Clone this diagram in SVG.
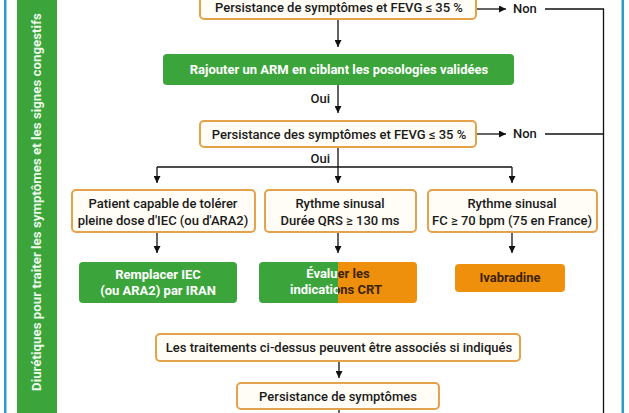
<svg xmlns="http://www.w3.org/2000/svg" width="629" height="413" viewBox="0 0 629 413">
<defs>
<marker id="arr" viewBox="0 0 10 10" refX="10" refY="5" markerWidth="7" markerHeight="7" markerUnits="userSpaceOnUse" orient="auto">
<path d="M0,0 L10,5 L0,10 z" fill="#111"/>
</marker>
<clipPath id="clipG"><rect x="259" y="262" width="79" height="41"/></clipPath>
<clipPath id="clipO"><rect x="338" y="262" width="79" height="41"/></clipPath>
<style>
.q{fill:#fffdf6;stroke:#e4a24c;stroke-width:2}
.t{font-family:Roboto,"Liberation Sans",sans-serif;font-size:13px;font-weight:500;fill:#1a1a1a;text-anchor:middle}
.w{font-family:Roboto,"Liberation Sans",sans-serif;font-size:13px;font-weight:700;fill:#ffffff;text-anchor:middle}
.d{font-family:Roboto,"Liberation Sans",sans-serif;font-size:13px;font-weight:700;fill:#3d2300;text-anchor:middle}
.l{font-family:Roboto,"Liberation Sans",sans-serif;font-size:13px;font-weight:500;fill:#1a1a1a}
.c{fill:none;stroke:#111;stroke-width:1.3}
.g{fill:#3ba53b}
.o{fill:#ef900c}
</style>
</defs>
<rect width="629" height="413" fill="#ffffff"/>
<g id="frame">
<rect x="4" y="0" width="2.5" height="413" fill="#2b9cc8"/>
<rect x="621.5" y="0" width="2.5" height="413" fill="#2b9cc8"/>
</g>
<g id="sidebar">
<rect x="17" y="0" width="40" height="413" class="g"/>
<text transform="translate(40.5,391) rotate(-90)" font-family="Roboto,'Liberation Sans',sans-serif" font-size="13.3" font-weight="700" fill="#eef8ea">Diurétiques pour traiter les symptômes et les signes congestifs</text>
</g>
<g id="connectors">
<path class="c" d="M338,19 V47" marker-end="url(#arr)"/>
<path class="c" d="M476,9 H506" marker-end="url(#arr)"/>
<path class="c" d="M545,9 H603.5 V413"/>
<path class="c" d="M338,85 V113" marker-end="url(#arr)"/>
<path class="c" d="M476,134 H506" marker-end="url(#arr)"/>
<path class="c" d="M545,134 H603.5"/>
<path class="c" d="M338,147 V167"/>
<path class="c" d="M157,167 H512"/>
<path class="c" d="M157,167 V183" marker-end="url(#arr)"/>
<path class="c" d="M338,167 V183" marker-end="url(#arr)"/>
<path class="c" d="M512,167 V183" marker-end="url(#arr)"/>
<path class="c" d="M157,232 V253" marker-end="url(#arr)"/>
<path class="c" d="M338,232 V253" marker-end="url(#arr)"/>
<path class="c" d="M512,232 V253" marker-end="url(#arr)"/>
<path class="c" d="M339,361 V378" marker-end="url(#arr)"/>
<path class="c" d="M339,409 V413"/>
<text class="l" x="513" y="13">Non</text>
<text class="l" x="513" y="138">Non</text>
<text class="l" x="330" y="103" text-anchor="end">Oui</text>
<text class="l" x="330" y="163" text-anchor="end">Oui</text>
</g>
<g id="n1">
<rect class="q" x="200" y="-8" width="276" height="27" rx="4"/>
<text class="t" x="339" y="12">Persistance de symptômes et FEVG ≤ 35 %</text>
</g>
<g id="n2">
<rect class="g" x="163" y="54" width="351" height="31" rx="4"/>
<text class="w" x="339" y="74">Rajouter un ARM en ciblant les posologies validées</text>
</g>
<g id="n3">
<rect class="q" x="200" y="121" width="276" height="26" rx="4"/>
<text class="t" x="339" y="139">Persistance des symptômes et FEVG ≤ 35 %</text>
</g>
<g id="n4">
<rect class="q" x="72" y="190" width="183" height="42" rx="4"/>
<text class="t" x="163" y="208">Patient capable de tolérer</text>
<text class="t" x="163" y="225">pleine dose d'IEC (ou d'ARA2)</text>
</g>
<g id="n5">
<rect class="q" x="265" y="190" width="151" height="42" rx="4"/>
<text class="t" x="340" y="208">Rythme sinusal</text>
<text class="t" x="340" y="225">Durée QRS ≥ 130 ms</text>
</g>
<g id="n6">
<rect class="q" x="428" y="190" width="169" height="42" rx="4"/>
<text class="t" x="512" y="208">Rythme sinusal</text>
<text class="t" x="512" y="225">FC ≥ 70 bpm (75 en France)</text>
</g>
<g id="n7">
<rect class="g" x="79" y="262" width="158" height="41" rx="4"/>
<text class="w" x="158" y="279">Remplacer IEC</text>
<text class="w" x="158" y="295">(ou ARA2) par IRAN</text>
</g>
<g id="n8">
<rect class="g" x="259" y="262" width="158" height="41" rx="4" clip-path="url(#clipG)"/>
<rect class="o" x="259" y="262" width="158" height="41" rx="4" clip-path="url(#clipO)"/>
<g clip-path="url(#clipG)">
<text class="w" x="338" y="278">Évaluer les</text>
<text class="w" x="336" y="294">indications CRT</text>
</g>
<g clip-path="url(#clipO)">
<text class="d" x="338" y="278">Évaluer les</text>
<text class="d" x="336" y="294">indications CRT</text>
</g>
</g>
<g id="n9">
<rect class="o" x="455" y="264" width="110" height="28" rx="4"/>
<text class="d" x="510" y="282">Ivabradine</text>
</g>
<g id="n10">
<rect class="q" x="156" y="334" width="364" height="27" rx="4"/>
<text class="t" x="339" y="352">Les traitements ci-dessus peuvent être associés si indiqués</text>
</g>
<g id="n11">
<rect class="q" x="237" y="383" width="202" height="26" rx="4"/>
<text class="t" x="338" y="401">Persistance de symptômes</text>
</g>
</svg>
